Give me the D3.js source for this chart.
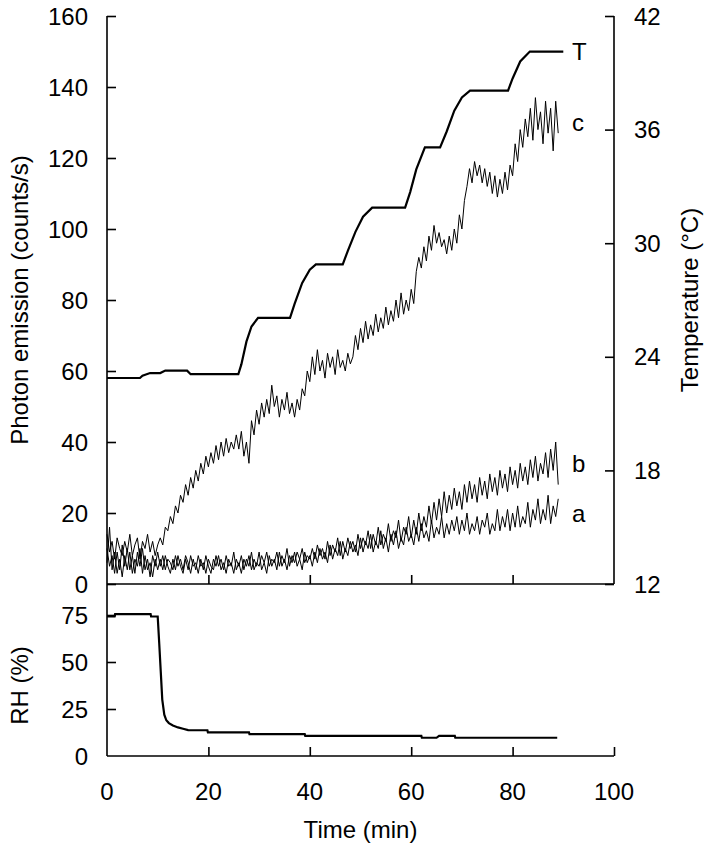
<!DOCTYPE html>
<html>
<head>
  <meta charset="utf-8">
  <title>Photon emission, temperature and RH</title>
  <style>
    body { margin: 0; padding: 0; background: white; }
    svg text { font-family: "Liberation Sans", Arial, sans-serif; fill: #000; }
    .axis path, .axis line { stroke: #000; stroke-width: 1.6; }
    .tick-label { font-size: 24px; }
    .title { font-size: 24px; }
    .trace { fill: none; stroke: #000; stroke-width: 1; stroke-linejoin: round; }
    .thick { fill: none; stroke: #000; stroke-width: 2.2; }
  </style>
</head>
<body>
<div id="chart"></div>
<script src="https://cdnjs.cloudflare.com/ajax/libs/d3/7.8.5/d3.min.js"></script>
<script>

// ####### DATA #######
// photon traces are sampled every half minute from t = 0
var sampleStep = 0.5

var traceC = [14,9,12,7,13,10,8,12,9,14,8,11,13,7,12,10,14,9,12,8,11,
  13,11,16,15,19,17,22,20,25,23,
  28,25,30,27,32,29,34,31,36,33,
  37,34,39,35,40,36,41,37,40,38,
  42,38,43,36,40,34,
  46,42,49,45,51,47,52,
  48,56,50,53,47,52,49,54,48,51,47,52,49,
  55,53,60,57,
  64,59,66,60,63,58,65,61,64,59,66,61,63,60,65,62,64,
  70,66,72,68,74,69,73,70,76,71,75,72,78,73,77,74,80,75,82,76,80,77,83,
  79,88,92,89,95,91,98,94,101,96,99,95,
  97,93,98,94,100,96,104,100,
  108,112,117,113,119,115,
  118,113,117,112,116,110,115,109,114,110,116,111,
  118,115,124,119,128,123,131,126,
  134,125,137,128,133,124,136,127,134,122,136,127]

var traceA = [6,16,4,9,3,7,2,8,4,9,3,7,5,10,3,8,4,6,2,7,4,
  7,4,8,5,3,7,4,8,5,3,7,4,8,5,6,3,7,4,8,5,3,7,5,8,4,6,3,7,5,9,
  4,6,3,7,5,8,4,7,5,9,4,6,3,8,5,7,4,9,5,7,4,8,6,9,5,7,4,9,6,8,
  5,9,6,10,7,9,6,11,7,10,8,12,7,10,8,12,9,11,8,13,9,12,10,14,9,12,10,15,10,13,9,14,11,15,10,13,11,16,12,14,
  11,16,12,17,13,15,12,18,13,16,14,19,13,17,14,18,15,19,14,18,15,20,14,17,15,19,14,18,16,20,14,17,15,21,15,19,16,21,15,20,16,22,16,19,17,23,16,21,18,24,17,21,18,25,17,22,19,24]

var traceB = [10,5,8,3,9,4,11,5,10,4,8,3,9,5,10,4,7,2,8,5,9,
  5,8,4,7,6,4,8,5,7,4,8,6,3,7,4,8,5,6,3,7,5,4,8,5,7,4,8,5,6,3,
  7,5,8,4,7,5,9,4,6,5,8,6,9,5,7,6,9,5,8,6,10,5,8,6,9,7,10,6,8,7,
  10,7,11,8,10,7,12,8,11,9,13,8,12,9,13,10,12,9,14,10,13,11,15,10,14,11,16,11,14,12,17,12,15,13,18,12,16,14,19,13,
  18,14,20,15,19,16,22,17,23,18,24,19,26,20,25,21,27,22,26,21,28,23,29,24,28,23,30,25,29,24,31,26,30,25,32,27,31,26,33,28,32,27,34,29,33,28,35,30,36,29,34,31,37,30,38,32,40,28]

// temperature (right axis, °C)
var tempTime  = [0,6.5,7,8.5,10.5,11.5,15.8,16.5,25.9,26.5,27.5,28.5,29.8,36.1,37,38.5,40,41.2,46.5,47.5,49,50.5,52.3,58.8,59.8,61,62.7,65.7,67,68.5,70,71.6,79.1,80,81.5,83.4,90]
var tempValue = [22.88,22.88,23.0,23.14,23.14,23.27,23.27,23.08,23.08,23.6,24.8,25.6,26.06,26.06,26.8,27.9,28.6,28.88,28.88,29.6,30.6,31.4,31.88,31.88,32.7,33.9,35.06,35.06,35.9,37.0,37.7,38.06,38.06,38.7,39.6,40.12,40.12]

// relative humidity (lower panel, %)
var rhTime  = [0,1.5,1.6,8.6,8.7,10,10.3,10.6,10.9,11.3,11.7,12.2,13,14,15,16,19.8,19.9,28,28.1,39,39.1,62,62.1,65,65.5,68.6,68.7,88.8]
var rhValue = [74.2,74.2,75.5,75.5,74.2,74.2,60,45,30,22,19,17.5,16.2,15.2,14.5,13.8,13.7,12.6,12.6,11.6,11.6,10.7,10.7,9.7,9.7,10.7,10.7,9.7,9.7]

var photonTicks = [0,20,40,60,80,100,120,140,160]
var tempTicks   = [12,18,24,30,36,42]
var rhTicks     = [0,25,50,75]
var timeTicks   = [0,20,40,60,80,100]

var traceLabels = [
  {name: "T", t: 90, series: "temp"},
  {name: "c", t: 89, value: 130},
  {name: "b", t: 89, value: 34},
  {name: "a", t: 89, value: 20}
]

// ####### LAYOUT #######
var width = 709, height = 847
var left = 107, right = 614
var topY = 16, midY = 584, bottomY = 756

var svg = d3.select("#chart").append("svg")
    .attr("width", width)
    .attr("height", height)

var x = d3.scaleLinear().domain([0, 100]).range([left, right])
var yPhoton = d3.scaleLinear().domain([0, 160]).range([midY, topY])
var yTemp = d3.scaleLinear().domain([12, 42]).range([midY, topY])
var yRH = d3.scaleLinear().domain([0, 75]).range([bottomY, 615])

// ####### AXES #######
// left photon axis, ticks point inward
var gLeft = svg.append("g").attr("class", "axis")
    .attr("transform", "translate(" + left + ",0)")
    .call(d3.axisRight(yPhoton).tickValues(photonTicks).tickSize(9).tickFormat(""))
gLeft.select(".domain").attr("d", "M0," + topY + "V" + bottomY)

svg.append("g").selectAll("text")
    .data(photonTicks).enter().append("text")
    .attr("class", "tick-label")
    .attr("x", 88)
    .attr("y", function (d) { return yPhoton(d) })
    .attr("dy", "0.36em")
    .attr("text-anchor", "end")
    .text(function (d) { return d })

// right temperature axis
var gRight = svg.append("g").attr("class", "axis")
    .attr("transform", "translate(" + right + ",0)")
    .call(d3.axisLeft(yTemp).tickValues(tempTicks).tickSize(9).tickFormat(""))
gRight.select(".domain").attr("d", "M0," + topY + "V" + midY)

svg.append("g").selectAll("text")
    .data(tempTicks).enter().append("text")
    .attr("class", "tick-label")
    .attr("x", 634)
    .attr("y", function (d) { return yTemp(d) })
    .attr("dy", "0.36em")
    .text(function (d) { return d })

// top panel bottom line (no labels)
var gMid = svg.append("g").attr("class", "axis")
    .attr("transform", "translate(0," + midY + ")")
    .call(d3.axisTop(x).tickValues([20, 40, 60, 80]).tickSize(9).tickFormat(""))
gMid.select(".domain").attr("d", "M" + left + ",0H" + right)

// RH axis (left, lower panel)
svg.append("g").attr("class", "axis")
    .attr("transform", "translate(" + left + ",0)")
    .call(d3.axisRight(yRH).tickValues([25, 50, 75]).tickSize(9).tickFormat(""))
    .select(".domain").remove()

svg.append("g").selectAll("text")
    .data(rhTicks).enter().append("text")
    .attr("class", "tick-label")
    .attr("x", 88)
    .attr("y", function (d) { return yRH(d) })
    .attr("dy", "0.36em")
    .attr("text-anchor", "end")
    .text(function (d) { return d })

// time axis
var gBottom = svg.append("g").attr("class", "axis")
    .attr("transform", "translate(0," + bottomY + ")")
    .call(d3.axisTop(x).tickValues([20, 40, 60, 80, 100]).tickSize(9).tickFormat(""))
gBottom.select(".domain").attr("d", "M" + left + ",0H" + right)

svg.append("g").selectAll("text")
    .data(timeTicks).enter().append("text")
    .attr("class", "tick-label")
    .attr("x", function (d) { return x(d) })
    .attr("y", 800)
    .attr("text-anchor", "middle")
    .text(function (d) { return d })

svg.selectAll(".axis .tick text").remove()

// ####### AXIS TITLES #######
svg.append("text").attr("class", "title")
    .attr("transform", "translate(28," + ((topY + midY) / 2) + ") rotate(-90)")
    .attr("text-anchor", "middle")
    .text("Photon emission (counts/s)")

svg.append("text").attr("class", "title")
    .attr("transform", "translate(28," + ((615 + bottomY) / 2) + ") rotate(-90)")
    .attr("text-anchor", "middle")
    .text("RH (%)")

svg.append("text").attr("class", "title")
    .attr("transform", "translate(698," + ((topY + midY) / 2) + ") rotate(-90)")
    .attr("text-anchor", "middle")
    .text("Temperature (°C)")

svg.append("text").attr("class", "title")
    .attr("x", (left + right) / 2)
    .attr("y", 838)
    .attr("text-anchor", "middle")
    .text("Time (min)")

// ####### LINES #######
var photonLine = d3.line()
    .x(function (d, i) { return x(i * sampleStep) })
    .y(function (d) { return yPhoton(d) })

;[traceA, traceB, traceC].forEach(function (series) {
  svg.append("path")
      .datum(series)
      .attr("class", "trace")
      .attr("d", photonLine)
})

var tempLine = d3.line()
    .x(function (d) { return x(tempTime[d]) })
    .y(function (d) { return yTemp(tempValue[d]) })

svg.append("path")
    .datum(d3.range(tempTime.length))
    .attr("class", "thick")
    .attr("d", tempLine)

var rhLine = d3.line()
    .x(function (d) { return x(rhTime[d]) })
    .y(function (d) { return yRH(rhValue[d]) })

svg.append("path")
    .datum(d3.range(rhTime.length))
    .attr("class", "thick")
    .attr("d", rhLine)

// ####### TRACE LABELS #######
svg.append("g").selectAll("text")
    .data(traceLabels).enter().append("text")
    .attr("class", "tick-label")
    .attr("x", 572)
    .attr("y", function (d) {
      return d.series === "temp" ? yTemp(tempValue[tempValue.length - 1]) : yPhoton(d.value)
    })
    .attr("dy", "0.36em")
    .text(function (d) { return d.name })

</script>
</body>
</html>
